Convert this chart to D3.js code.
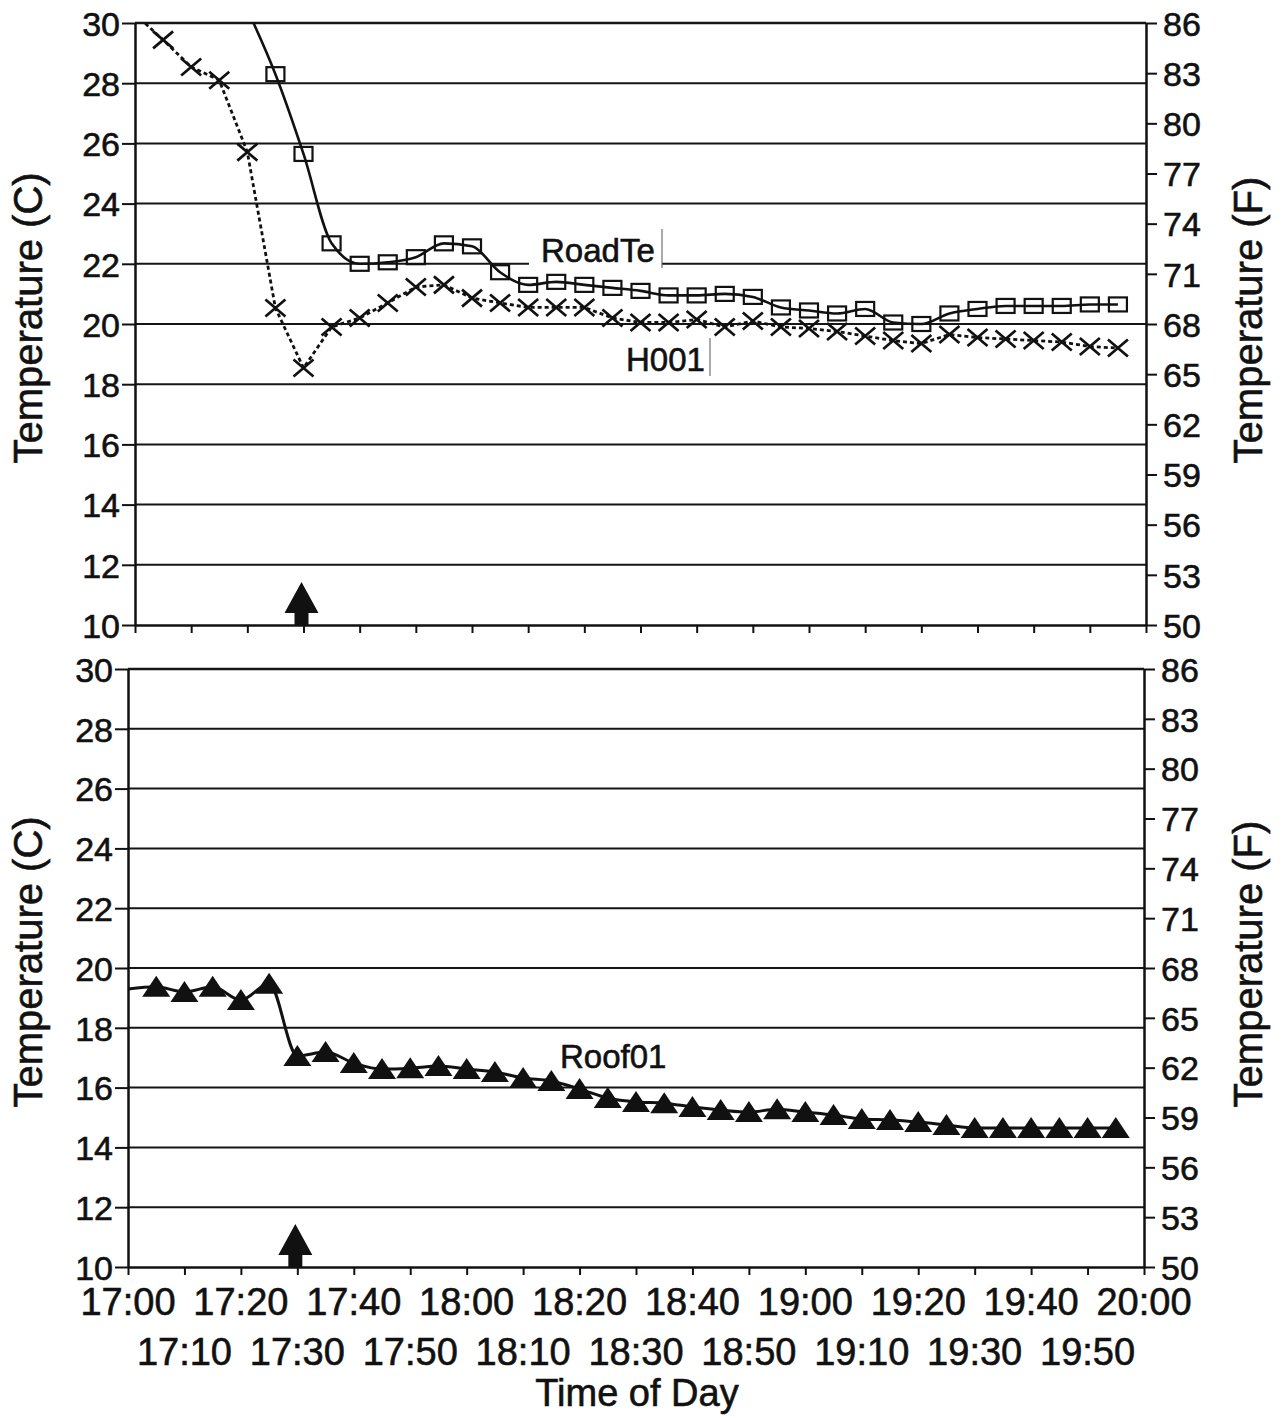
<!DOCTYPE html>
<html>
<head>
<meta charset="utf-8">
<script src="https://cdn.jsdelivr.net/npm/d3@7"></script>
<style>
  html, body { margin: 0; padding: 0; background: #fff; }
  svg { display: block; font-family: "Liberation Sans", Arial, Helvetica, sans-serif; }
  .lbl { stroke: #111; stroke-width: 0.6px; paint-order: stroke; }
</style>
</head>
<body>
<script>
// ---------------- DATA ----------------
const times = ["17:00","17:05","17:10","17:15","17:20","17:25","17:30","17:35","17:40","17:45",
               "17:50","17:55","18:00","18:05","18:10","18:15","18:20","18:25","18:30","18:35",
               "18:40","18:45","18:50","18:55","19:00","19:05","19:10","19:15","19:20","19:25",
               "19:30","19:35","19:40","19:45","19:50","19:55"];

// H001 (x markers, dotted line) — top panel
const h001 = [30.3, 29.44, 28.54, 28.1, 25.71, 20.53, 18.54, 19.9, 20.2, 20.7,
              21.23, 21.3, 20.86, 20.7, 20.55, 20.55, 20.55, 20.2, 20.05, 20.05,
              20.15, 19.9, 20.1, 19.9, 19.85, 19.75, 19.6, 19.45, 19.35, 19.65,
              19.55, 19.5, 19.45, 19.4, 19.25, 19.2];

// RoadTe (open squares, solid line) — top panel, starts at 17:20
const roadTimes = times.slice(4);
const roadTe = [30.45, 28.3, 25.65, 22.68, 22.0, 22.05, 22.22, 22.68, 22.58, 21.72,
                21.3, 21.4, 21.3, 21.2, 21.1, 20.95, 20.95, 21.0, 20.9, 20.55,
                20.45, 20.35, 20.5, 20.05, 20.0, 20.35, 20.5, 20.6, 20.6, 20.6,
                20.65, 20.65];

// Roof01 (filled triangles, solid line) — bottom panel
const roof01 = [19.3, 19.37, 19.2, 19.37, 18.93, 19.47, 17.06, 17.19, 16.82, 16.62,
                16.65, 16.72, 16.62, 16.52, 16.32, 16.22, 15.95, 15.65, 15.52, 15.48,
                15.35, 15.25, 15.18, 15.28, 15.18, 15.08, 14.95, 14.92, 14.85, 14.75,
                14.65, 14.65, 14.65, 14.65, 14.65, 14.65];

const cTicks = [10, 12, 14, 16, 18, 20, 22, 24, 26, 28, 30];
const fTicks = [50, 53, 56, 59, 62, 65, 68, 71, 74, 77, 80, 83, 86];
const xTickLabels = ["17:00","17:10","17:20","17:30","17:40","17:50","18:00","18:10","18:20","18:30",
                     "18:40","18:50","19:00","19:10","19:20","19:30","19:40","19:50","20:00"];
const arrowTime = "17:30";
const seriesLabels = ["RoadTe", "H001", "Roof01"];

// ---------------- LAYOUT ----------------
const W = 1287, H = 1418;
const parse = d3.timeParse("%H:%M");
const panels = [
  { id: "top", x0: 135, x1: 1146, y0: 23, y1: 625 },
  { id: "bot", x0: 128, x1: 1144, y0: 669, y1: 1267 }
];

const svg = d3.select("body").append("svg").attr("width", W).attr("height", H);
svg.append("rect").attr("width", W).attr("height", H).attr("fill", "#fff");
const defs = svg.append("defs");
const INK = "#111";

panels.forEach(p => {
  p.x = d3.scaleTime().domain([parse("17:00"), parse("20:00")]).range([p.x0, p.x1]);
  p.y = d3.scaleLinear().domain([10, 30]).range([p.y1, p.y0]);
  p.yF = d3.scaleLinear().domain([50, 86]).range([p.y1, p.y0]);
  const g = svg.append("g");
  p.g = g;

  defs.append("clipPath").attr("id", "clip-" + p.id)
    .append("rect").attr("x", p.x0).attr("y", p.y0)
    .attr("width", p.x1 - p.x0).attr("height", p.y1 - p.y0);

  // gridlines
  g.append("g").selectAll("line").data(cTicks.filter(v => v > 10))
    .join("line")
    .attr("x1", p.x0).attr("x2", p.x1)
    .attr("y1", d => p.y(d)).attr("y2", d => p.y(d))
    .attr("stroke", "#151515").attr("stroke-width", d => d === 30 ? 2.6 : 2);

  // left axis
  const la = g.append("g").attr("transform", `translate(${p.x0},0)`)
    .call(d3.axisLeft(p.y).tickValues(cTicks).tickSize(13).tickSizeOuter(0).tickPadding(2));
  la.select(".domain").attr("stroke", INK).attr("stroke-width", 2.5);
  la.selectAll(".tick line").attr("stroke", INK).attr("stroke-width", 2);
  la.selectAll(".tick text").attr("font-size", 34).attr("fill", INK).attr("class", "lbl")
    .attr("font-family", "'Liberation Sans', Arial, sans-serif").attr("dy", "0.36em");

  // right axis (F)
  const ra = g.append("g").attr("transform", `translate(${p.x1},0)`)
    .call(d3.axisRight(p.yF).tickValues(fTicks).tickSize(11).tickSizeOuter(0).tickPadding(6));
  ra.select(".domain").attr("stroke", INK).attr("stroke-width", 2.5);
  ra.selectAll(".tick line").attr("stroke", INK).attr("stroke-width", 2);
  ra.selectAll(".tick text").attr("font-size", 34).attr("fill", INK).attr("class", "lbl")
    .attr("font-family", "'Liberation Sans', Arial, sans-serif").attr("dy", "0.36em");

  // bottom axis
  const ba = g.append("g").attr("transform", `translate(0,${p.y1})`)
    .call(d3.axisBottom(p.x).tickValues(xTickLabels.map(parse)).tickSize(8).tickSizeOuter(0).tickFormat(""));
  ba.select(".domain").attr("stroke", INK).attr("stroke-width", 2.5);
  ba.selectAll(".tick line").attr("stroke", INK).attr("stroke-width", 2);

  // axis titles
  g.append("text").attr("class", "lbl")
    .attr("transform", `translate(42,${(p.y0 + p.y1) / 2 - 6}) rotate(-90)`)
    .attr("text-anchor", "middle").attr("font-size", 40).attr("fill", INK)
    .text("Temperature (C)");
  g.append("text").attr("class", "lbl")
    .attr("transform", `translate(1262,${(p.y0 + p.y1) / 2 - 4}) rotate(-90)`)
    .attr("text-anchor", "middle").attr("font-size", 40).attr("fill", INK)
    .text("Temperature (F)");

  // arrow annotation at 17:30
  const ax = p.x(parse(arrowTime)) - 2;
  const by = p.y(10);
  const arrow = d3.path();
  arrow.moveTo(ax - 7, by);
  arrow.lineTo(ax - 7, by - 12);
  arrow.lineTo(ax - 17, by - 12);
  arrow.lineTo(ax, by - 43);
  arrow.lineTo(ax + 17, by - 12);
  arrow.lineTo(ax + 7, by - 12);
  arrow.lineTo(ax + 7, by);
  arrow.closePath();
  g.append("path").attr("d", arrow.toString()).attr("fill", INK);
});

// bottom x tick labels, two staggered rows
const pb = panels[1];
svg.append("g").selectAll("text").data(xTickLabels).join("text").attr("class", "lbl")
  .attr("x", d => pb.x(parse(d)))
  .attr("y", (d, i) => i % 2 === 0 ? 1315 : 1365)
  .attr("text-anchor", "middle").attr("font-size", 38).attr("fill", INK)
  .text(d => d);
svg.append("text").attr("class", "lbl").attr("x", 637).attr("y", 1406)
  .attr("text-anchor", "middle").attr("font-size", 38).attr("fill", INK)
  .text("Time of Day");

// ---------------- SERIES ----------------
const pt = panels[0];
const tg = pt.g.append("g").attr("clip-path", "url(#clip-top)");

// H001 dotted line + x markers
const h001Data = times.map((t, i) => ({ t: parse(t), v: h001[i] }));
tg.append("path").datum(h001Data)
  .attr("d", d3.line().x(d => pt.x(d.t)).y(d => pt.y(d.v)).curve(d3.curveLinear))
  .attr("fill", "none").attr("stroke", INK).attr("stroke-width", 2.8)
  .attr("stroke-dasharray", "4,3");
const xs = 10;
tg.append("g").selectAll("path").data(h001Data.slice(1)).join("path")
  .attr("d", d => {
    const cx = pt.x(d.t), cy = pt.y(d.v);
    return `M${cx - xs},${cy - xs * 0.85}L${cx + xs},${cy + xs * 0.85}M${cx - xs},${cy + xs * 0.85}L${cx + xs},${cy - xs * 0.85}`;
  })
  .attr("stroke", INK).attr("stroke-width", 2.7).attr("fill", "none");

// RoadTe solid line + open squares
const roadData = roadTimes.map((t, i) => ({ t: parse(t), v: roadTe[i] }));
tg.append("path").datum(roadData)
  .attr("d", d3.line().x(d => pt.x(d.t)).y(d => pt.y(d.v)).curve(d3.curveMonotoneX))
  .attr("fill", "none").attr("stroke", INK).attr("stroke-width", 2.6);
tg.append("g").selectAll("rect").data(roadData).join("rect")
  .attr("x", d => pt.x(d.t) - 9).attr("y", d => pt.y(d.v) - 7)
  .attr("width", 18).attr("height", 14)
  .attr("fill", "none").attr("stroke", INK).attr("stroke-width", 2.2);

// Roof01 solid line + filled triangles
const bg = pb.g.append("g").attr("clip-path", "url(#clip-bot)");
const roofData = times.map((t, i) => ({ t: parse(t), v: roof01[i] }));
bg.append("path").datum(roofData)
  .attr("d", d3.line().x(d => pb.x(d.t)).y(d => pb.y(d.v)).curve(d3.curveMonotoneX))
  .attr("fill", "none").attr("stroke", INK).attr("stroke-width", 3);
bg.append("g").selectAll("path").data(roofData.slice(1)).join("path")
  .attr("d", d => {
    const cx = pb.x(d.t), cy = pb.y(d.v);
    return `M${cx},${cy - 11}L${cx + 14},${cy + 10}L${cx - 14},${cy + 10}Z`;
  })
  .attr("fill", INK);

// ---------------- SERIES LABELS ----------------
function seriesLabel(g, text, x, baseline, boxRight, boxTop, boxBottom) {
  g.append("rect").attr("x", x - 12).attr("y", boxTop)
    .attr("width", boxRight - x + 12).attr("height", boxBottom - boxTop).attr("fill", "#fff");
  g.append("line").attr("x1", boxRight).attr("x2", boxRight)
    .attr("y1", boxTop).attr("y2", boxBottom)
    .attr("stroke", "#555").attr("stroke-width", 1);
  g.append("text").attr("class", "lbl").attr("x", x).attr("y", baseline)
    .attr("font-size", 33).attr("fill", INK).text(text);
}
seriesLabel(svg, seriesLabels[0], 541, 262, 662, 229, 268);
seriesLabel(svg, seriesLabels[1], 626, 371, 710, 338, 376);
svg.append("text").attr("class", "lbl").attr("x", 560).attr("y", 1068)
  .attr("font-size", 33).attr("fill", INK).text(seriesLabels[2]);
</script>
</body>
</html>
